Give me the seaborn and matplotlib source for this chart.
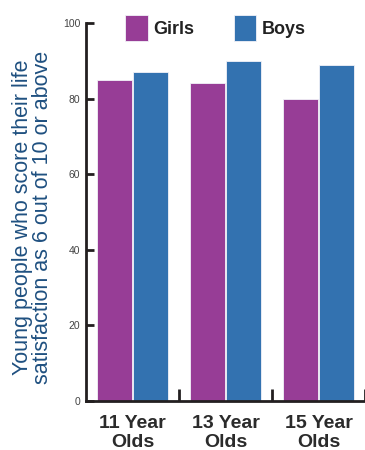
import matplotlib
matplotlib.use("Agg")
import matplotlib.pyplot as plt
import seaborn as sns
import pandas as pd
from matplotlib.patches import Patch

# Share of young people rating life satisfaction 6/10 or above
age_groups = ["11 Year\nOlds", "13 Year\nOlds", "15 Year\nOlds"]
girls = [85, 84, 80]
boys = [87, 90, 89]
series = ["Girls", "Boys"]
y_ticks = [0, 20, 40, 60, 80, 100]

colors = {"Girls": "#973d96", "Boys": "#3372b0"}
ink = "#231f20"

df = pd.DataFrame({
    "age": age_groups * 2,
    "value": girls + boys,
    "sex": ["Girls"] * len(girls) + ["Boys"] * len(boys),
})

sns.set_style("white")
plt.rcParams["font.family"] = ["Liberation Sans", "DejaVu Sans"]

fig = plt.figure(figsize=(3.65, 4.5), dpi=100)
ax = fig.add_axes([86 / 365, 1 - 401 / 450, 1 - 86 / 365, (401 - 23) / 450])

sns.barplot(data=df, x="age", y="value", hue="sex", hue_order=series,
            palette=colors, saturation=1, width=0.78, gap=0.04,
            edgecolor="#f2f2f8", linewidth=0.6, legend=False, ax=ax)

ax.set_xlim(-0.5, 2.5)
ax.set_ylim(0, 100)
ax.set_yticks(y_ticks)
ax.set_yticklabels([str(t) for t in y_ticks], fontsize=7.5, color="#444444")
ax.tick_params(axis="y", left=True, direction="in", length=6, width=2, color=ink, pad=4)

ax.set_xticks(range(len(age_groups)))
ax.set_xticklabels(age_groups, fontsize=14, fontweight="bold", color="#2b2b2b",
                   linespacing=1.2)
ax.tick_params(axis="x", which="major", length=0, pad=10)
ax.set_xticks([0.5, 1.5, 2.5], minor=True)
ax.tick_params(axis="x", which="minor", bottom=True, direction="in", length=9,
               width=2, color=ink)

for side in ("top", "right"):
    ax.spines[side].set_visible(False)
for side in ("left", "bottom"):
    ax.spines[side].set_linewidth(2)
    ax.spines[side].set_color(ink)

ax.set_xlabel("")
ax.set_ylabel("Young people who score their life\nsatisfaction as 6 out of 10 or above",
              fontsize=15.5, color="#1f5080", linespacing=0.95)
ax.yaxis.set_label_coords(-0.118, 0.485)

handles = [Patch(facecolor=colors[s], edgecolor="#f2f2f8", linewidth=0.6) for s in series]
fig.legend(handles, series, loc="center left", bbox_to_anchor=(125 / 365, 1 - 28 / 450),
           ncol=2, frameon=False, borderpad=0, borderaxespad=0,
           handlelength=1.25, handleheight=1.85, handletextpad=0.3,
           columnspacing=2.2, prop={"size": 13, "weight": "bold"}, labelcolor="#222222")

fig.savefig("out.png", dpi=100)
